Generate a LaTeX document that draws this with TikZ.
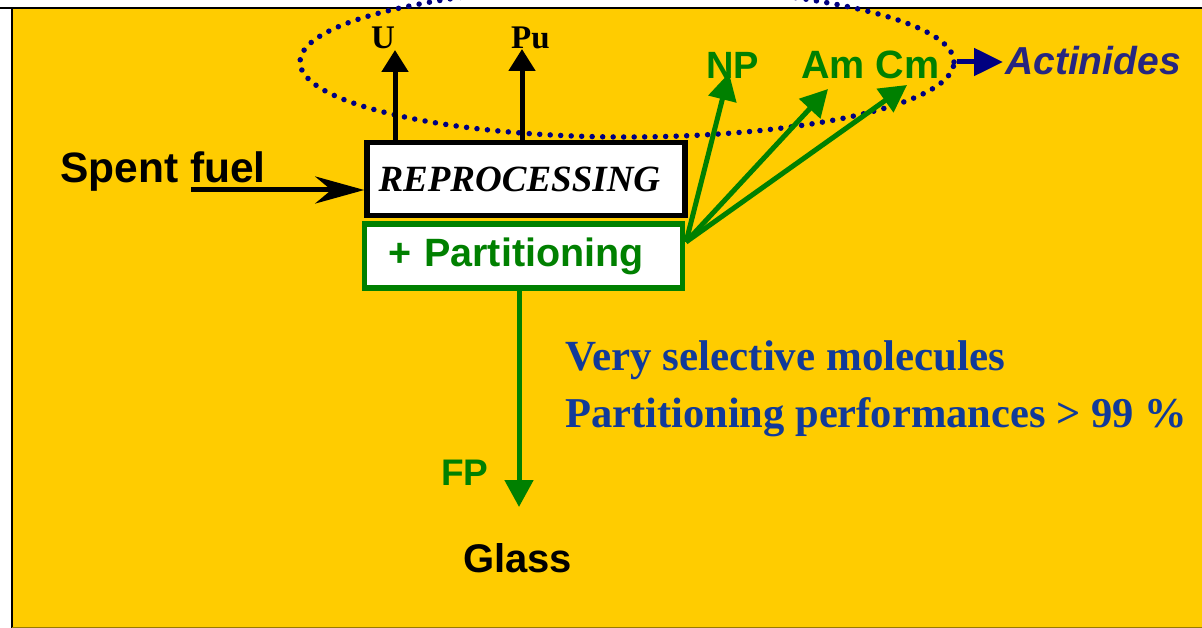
\documentclass[tikz,border=0pt]{standalone}
\usepackage{fontspec}
\setmainfont{Liberation Serif}
\setsansfont{Liberation Sans}
\usetikzlibrary{arrows.meta,shapes.geometric}
\definecolor{bgyellow}{HTML}{FFCC00}
\definecolor{grn}{HTML}{008000}
\definecolor{dotnavy}{HTML}{000080}
\definecolor{actblue}{HTML}{262680}
\definecolor{txtblue}{HTML}{113A99}
\definecolor{bottomline}{HTML}{9A7B00}
\tikzset{
  lbl/.style={inner sep=0pt, anchor=base west},
  sanslbl/.style={lbl, font=\sffamily\bfseries},
  blackarrow/.style={line width=5pt, -{Triangle[length=22pt,width=26pt]}},
  greenarrow/.style={draw=grn, line width=5pt, -{Triangle[length=27pt,width=28pt]}},
  procbox/.style={draw, line width=5.5pt, fill=white, minimum width=318pt, inner sep=0pt},
}
\begin{document}
\begin{tikzpicture}[x=1pt,y=-1pt]
\useasboundingbox (0,0) rectangle (1202,628);
% background
\fill[white] (0,0) rectangle (1202,628);
\fill[bgyellow] (12,8) rectangle (1202,627);
\draw[line width=2.5pt] (0,8) -- (1202,8);
\draw[line width=2.5pt] (12,8) -- (12,628);
\draw[bottomline, line width=1.5pt] (12,627.3) -- (1202,627.3);

% dotted actinide group
\begin{scope}
\clip (0,0) rectangle (1202,628);
\node[ellipse, draw=dotnavy, line width=5.5pt, line cap=round,
      dash pattern=on 0pt off 10.5pt, minimum width=654pt, minimum height=150pt,
      inner sep=0pt] (grp) at (627,62) {};
\end{scope}

% boxes
\node[procbox, minimum height=73pt, text width=295pt, align=left,
      font=\fontsize{37}{42}\selectfont\bfseries\itshape] (rep) at (526,179) {REPROCESSING};
\node[procbox, draw=grn, minimum height=64pt, text width=271pt, align=left,
      font=\fontsize{39.5}{44}\selectfont\sffamily\bfseries, text=grn] (part) at (523.5,256) {+ Partitioning};

% labels
\node[sanslbl, font=\fontsize{42.5}{48}\selectfont\sffamily\bfseries] (spent) at (60,183) {Spent fuel};
\node[lbl, font=\fontsize{33}{38}\selectfont\bfseries] (U) at (371,49) {U};
\node[lbl, font=\fontsize{33}{38}\selectfont\bfseries] (Pu) at (511,49) {Pu};
\node[sanslbl, font=\fontsize{38}{44}\selectfont\sffamily\bfseries, text=grn] (NP) at (706,79) {NP};
\node[sanslbl, font=\fontsize{39.5}{44}\selectfont\sffamily\bfseries, text=grn] (AmCm) at (801,79) {Am Cm};
\node[sanslbl, font=\fontsize{39}{44}\selectfont\sffamily\bfseries\itshape, text=actblue] (act) at (1005,75) {Actinides};
\node[sanslbl, font=\fontsize{37}{42}\selectfont\sffamily\bfseries, text=grn] (FP) at (441,485) {FP};
\node[sanslbl, font=\fontsize{40}{46}\selectfont\sffamily\bfseries] (glass) at (463,572) {Glass};
\node[lbl, font=\fontsize{43}{48}\selectfont\bfseries, text=txtblue] (sel) at (565,370) {Very selective molecules};
\node[lbl, font=\fontsize{42.5}{48}\selectfont\bfseries, text=txtblue] (perf) at (565,427) {Partitioning performances > 99 \%};

% coordinates
\coordinate (sfstart) at (191,190);
\coordinate (uend) at (395,50);
\coordinate (puend) at (522,49);
\coordinate (fork) at (686,242);
\coordinate (npend) at (729,73);
\coordinate (amend) at (828,89);
\coordinate (cmend) at (907,85);
\coordinate (fpend) at (519,507);
\coordinate (actend) at (1003,62);

% connectors
\draw[line width=5pt, -{Stealth[length=49pt,width=27pt,inset=16pt]}] (sfstart) -- (sfstart -| rep.west);
\draw[blackarrow] (rep.north -| uend) -- (uend);
\draw[blackarrow] (rep.north -| puend) -- (puend);
\draw[greenarrow] (fork) -- (npend);
\draw[greenarrow] (fork) -- (amend);
\draw[greenarrow] (fork) -- (cmend);
\draw[greenarrow] (part.south -| fpend) -- (fpend);
\draw[dotnavy, line width=5pt, -{Triangle[length=29pt,width=27pt]}] (grp.east) -- (actend);
\end{tikzpicture}
\end{document}
